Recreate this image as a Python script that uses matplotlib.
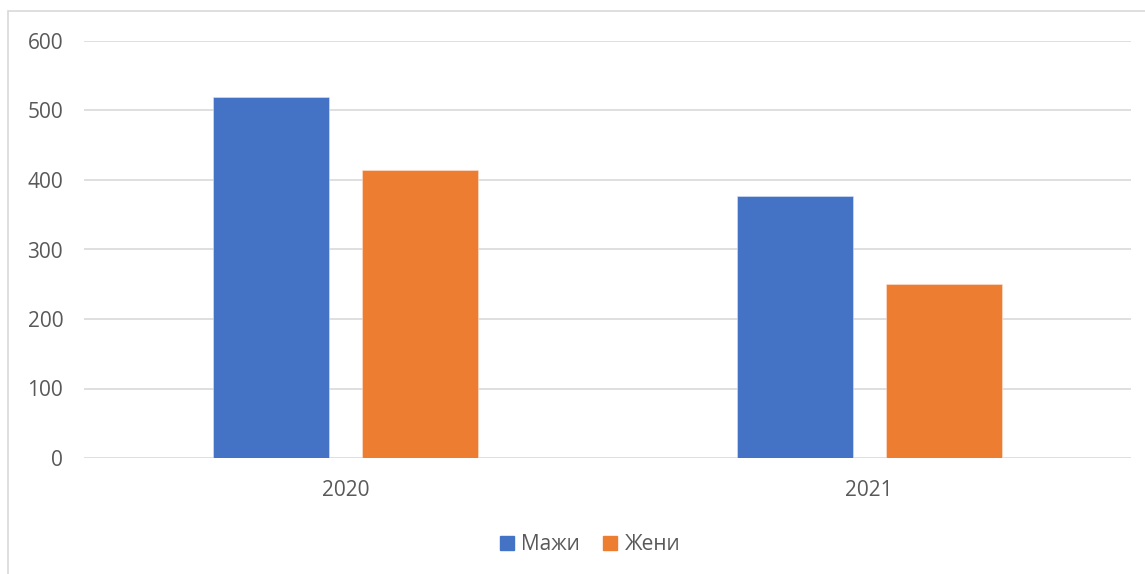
import numpy as np
import matplotlib
matplotlib.use('Agg')
import matplotlib.pyplot as plt
from matplotlib.patches import Rectangle, Patch

# ---- data ----
years = ['2020', '2021']
men = [520, 377]
women = [415, 250]
series_labels = ['Мажи', 'Жени']

BLUE = '#4472c4'
ORANGE = '#ed7d31'
GRID = '#d9d9d9'
TEXT = '#595959'

plt.rcParams['font.family'] = ['Open Sans', 'DejaVu Sans']

W, H = 1145, 574
fig = plt.figure(figsize=(W / 100, H / 100), dpi=100)

# chart frame (left/top edges only are in view)
fig.patches.append(Rectangle((8 / W, -0.1), 1.2, 1 - 11 / H + 0.1,
                             transform=fig.transFigure, fill=False,
                             edgecolor=GRID, lw=1.2))

ax = fig.add_axes([84 / W, 1 - 458 / H, (1131 - 84) / W, (458 - 41) / H])

x = np.arange(len(years))
bw = 0.222
off = 0.1425
ax.bar(x - off, men, bw, color=BLUE, edgecolor='#dce6f5', lw=0.4, zorder=3)
ax.bar(x + off, women, bw, color=ORANGE, edgecolor='#fbe5d6', lw=0.4, zorder=3)

ax.set_xlim(-0.5, len(years) - 0.5)
ax.set_ylim(0, 600)
ax.set_yticks(range(0, 601, 100))
ax.set_xticks(x)
ax.set_xticklabels(years)
ax.grid(axis='y', color=GRID, lw=1.2, zorder=0)
ax.set_axisbelow(True)
for s in ax.spines.values():
    s.set_visible(False)
ax.tick_params(axis='both', length=0, labelsize=15, labelcolor=TEXT)
ax.tick_params(axis='y', pad=15)
ax.tick_params(axis='x', pad=16)

handles = [Patch(color=BLUE), Patch(color=ORANGE)]
fig.legend(handles, series_labels, loc='center', bbox_to_anchor=(590 / W, 1 - 545 / H),
           ncol=2, frameon=False, fontsize=15, labelcolor=TEXT,
           handlelength=0.68, handleheight=0.68, handletextpad=0.35, columnspacing=1.1)

fig.savefig('out.png', dpi=100)
